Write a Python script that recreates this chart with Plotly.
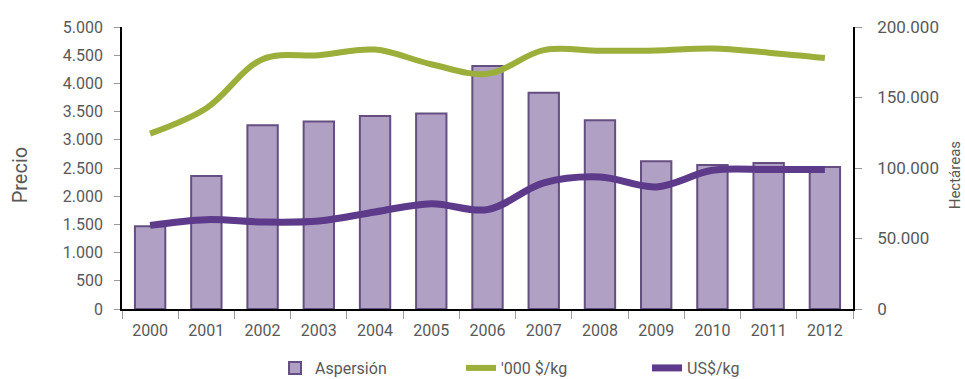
import plotly.graph_objects as go

years = ["2000", "2001", "2002", "2003", "2004", "2005", "2006",
         "2007", "2008", "2009", "2010", "2011", "2012"]
aspersion_ha = [58600, 94300, 130400, 133000, 136800, 138700, 172300,
                153300, 133900, 104800, 102200, 103600, 100700]
miles_pesos_kg = [3110, 3560, 4430, 4500, 4600, 4340, 4170,
                  4590, 4580, 4585, 4620, 4545, 4450]
usd_kg = [1483, 1584, 1542, 1560, 1720, 1868, 1762,
          2235, 2341, 2164, 2460, 2472, 2472]

FONT = "Roboto, Arial, sans-serif"
GRAY = "#595959"

fig = go.Figure()
fig.add_trace(go.Bar(
    x=years, y=aspersion_ha, name="Aspersión", yaxis="y",
    marker=dict(color="#B0A0C4", line=dict(color="#654E80", width=2)),
    width=0.54,
))
fig.add_trace(go.Scatter(
    x=years, y=miles_pesos_kg, name="'000 $/kg", yaxis="y2", mode="lines",
    line=dict(color="#9BAF3A", width=6, shape="spline", smoothing=1.0),
))
fig.add_trace(go.Scatter(
    x=years, y=usd_kg, name="US$/kg", yaxis="y2", mode="lines",
    line=dict(color="#5E3A8A", width=7, shape="spline", smoothing=1.0),
))

fig.update_layout(
    width=965, height=379,
    margin=dict(l=122, r=112, t=27, b=70),
    paper_bgcolor="white", plot_bgcolor="white",
    separators=",.",
    font=dict(family=FONT, size=16, color=GRAY),
    showlegend=True,
    legend=dict(orientation="h", x=0.591, xanchor="center",
                yref="container", y=0.029, yanchor="middle",
                entrywidth=141, entrywidthmode="pixels",
                font=dict(family=FONT, size=16, color=GRAY), traceorder="normal"),
    xaxis=dict(showline=True, linecolor="black", linewidth=1.5,
               ticks="outside", tickson="boundaries", ticklen=8, tickcolor="#999999",
               ticklabelstandoff=6,
               tickfont=dict(family=FONT, size=16, color=GRAY), showgrid=False,
               range=[-0.5, 12.5]),
    yaxis=dict(side="right", range=[0, 200000], dtick=50000, tickformat=",d",
               showline=True, linecolor="black", linewidth=1.5,
               ticks="outside", ticklen=7, tickcolor="#999999",
               ticklabelstandoff=12,
               tickfont=dict(family=FONT, size=17, color=GRAY),
               showgrid=False, zeroline=False),
    yaxis2=dict(side="left", overlaying="y", range=[0, 5000], dtick=500, tickformat=",d",
                showline=True, linecolor="black", linewidth=1.5,
                ticks="outside", ticklen=6, tickcolor="#999999",
                ticklabelstandoff=8,
                tickfont=dict(family=FONT, size=16, color=GRAY),
                showgrid=False, zeroline=False),
    annotations=[
        dict(text="Precio", xref="paper", yref="paper", x=-0.1395, y=0.474,
             textangle=-90, showarrow=False, xanchor="center", yanchor="middle",
             font=dict(family=FONT, size=20, color=GRAY)),
        dict(text="Hectáreas", xref="paper", yref="paper", x=1.1395, y=0.474,
             textangle=-90, showarrow=False, xanchor="center", yanchor="middle",
             font=dict(family=FONT, size=15, color=GRAY)),
    ],
)

fig.write_html("out.html", config={"displayModeBar": False},
               post_script="document.body.style.margin='0';")
